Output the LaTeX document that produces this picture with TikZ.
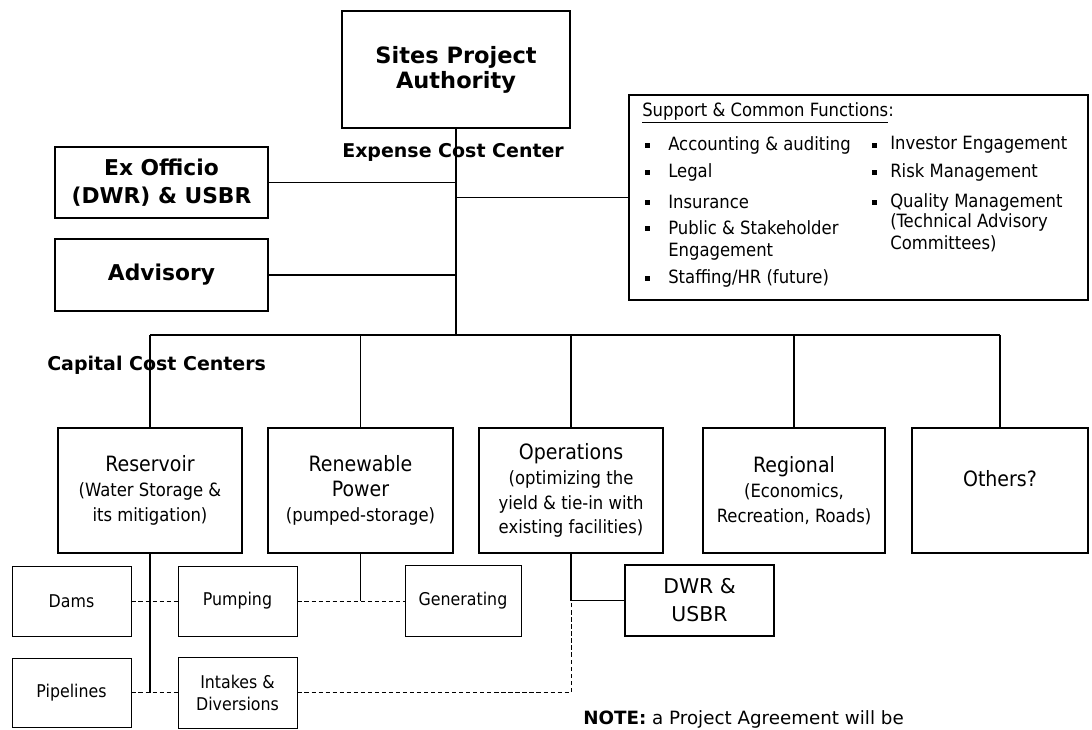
\documentclass[tikz,border=0pt]{standalone}
\usepackage{fontspec}
\setmainfont{DejaVu Sans}
\newfontfamily\condfont{DejaVu Sans Condensed}
\usepackage{tikz}
\usetikzlibrary{positioning,calc}

\begin{document}
\begin{tikzpicture}[
                x=0.025cm, y=-0.025cm,
                mainbox/.style={draw, line width=1.1pt, inner sep=0pt, align=center},
                titlebox/.style={mainbox, font=\bfseries\fontsize{16}{17.7}\selectfont},
                sidebox/.style={mainbox, font=\bfseries\fontsize{15.5}{19.9}\selectfont},
                centerbox/.style={mainbox, minimum height=3.125cm, font=\condfont\fontsize{13}{17.7}\selectfont},
                subbox/.style={draw, line width=0.6pt, inner sep=0pt, align=center, minimum width=2.975cm, minimum height=1.75cm, font=\condfont\fontsize{12.5}{15.6}\selectfont},
                link/.style={line width=1pt},
                dashlink/.style={line width=0.7pt, dash pattern=on 3pt off 2pt},
                boldlabel/.style={anchor=west, inner sep=0pt, font=\bfseries\fontsize{13.5}{16}\selectfont},
                listtext/.style={anchor=west, inner sep=0pt, font=\condfont\fontsize{13}{16}\selectfont}
            ]
                \useasboundingbox (0,0) rectangle (1092,730);
                \clip (0,0) rectangle (1092,730);

                % --- top ---
                \node[titlebox, minimum width=5.7cm, minimum height=2.925cm] (sites) at (456,69.5) {Sites Project\\Authority};
                \node[boldlabel] (expense) at (342,152) {Expense Cost Center};
                \node[sidebox, minimum width=5.325cm, minimum height=1.775cm] (exoff) at (161.5,182.5) {Ex Officio\\(DWR) \& USBR};
                \node[sidebox, minimum width=5.325cm, minimum height=1.8cm] (advis) at (161.5,275) {Advisory};
                \node[mainbox, minimum width=11.475cm, minimum height=5.125cm] (support) at (858.5,197.5) {};

                % --- support list ---
                \node[listtext] (shead) at (642,113) {\underline{Support \& Common Functions}:};
                \node[listtext] (acc) at (668,145) {Accounting \& auditing};
                \node[listtext] (legal) at (668,172) {Legal};
                \node[listtext] (insur) at (668,202) {Insurance};
                \node[listtext] (pub) at (668,228) {Public \& Stakeholder};
                \node[listtext] (pub2) at (668,252) {Engagement};
                \node[listtext] (staff) at (668,278) {Staffing/HR (future)};
                \node[listtext] (inv) at (890,145) {Investor Engagement};
                \node[listtext] (risk) at (890,172) {Risk Management};
                \node[listtext] (qual) at (890,202) {Quality Management};
                \node[listtext] (qual2) at (890,222) {(Technical Advisory};
                \node[listtext] (qual3) at (890,244) {Committees)};
                \foreach \x/\y in {647/145, 647/172, 647/202, 647/228, 647/278, 874/145, 874/172, 874/202}
                    \fill (\x-2.5,\y-2.5) rectangle +(5,5);

                % --- cost centers ---
                \node[boldlabel] (capital) at (47,365) {Capital Cost Centers};
                \node[centerbox, minimum width=4.6cm] (res) at (150,490.5) {{\fontsize{15}{17.7}\selectfont Reservoir}\\(Water Storage \&\\its mitigation)};
                \node[centerbox, minimum width=4.625cm] (ren) at (360.5,490.5) {{\fontsize{15}{17.7}\selectfont Renewable}\\{\fontsize{15}{17.7}\selectfont Power}\\(pumped-storage)};
                \node[centerbox, minimum width=4.6cm] (ops) at (571,490.5) {{\fontsize{15}{17.7}\selectfont Operations}\\(optimizing the\\yield \& tie-in with\\existing facilities)};
                \node[centerbox, minimum width=4.55cm] (reg) at (794,490.5) {{\fontsize{15}{17.7}\selectfont Regional}\\(Economics,\\Recreation, Roads)};
                \node[centerbox, minimum width=4.4cm] (oth) at (1000,490.5) {{\fontsize{15}{17.7}\selectfont Others?}\\\mbox{}};

                % --- sub boxes ---
                \node[subbox] (dams) at (71.5,601) {Dams};
                \node[subbox] (pump) at (237.5,601) {Pumping};
                \node[subbox, minimum width=2.9cm, minimum height=1.775cm] (gen) at (463,601) {Generating};
                \node[subbox, minimum height=1.725cm] (pipe) at (71.5,692.5) {Pipelines};
                \node[subbox, minimum height=1.775cm] (intk) at (237.5,692.5) {Intakes \&\\Diversions};
                \node[mainbox, line width=0.8pt, minimum width=3.725cm, minimum height=1.775cm, font=\fontsize{14.5}{20}\selectfont] (dwr) at (699.5,600.5) {DWR \&\\USBR};

                % --- connectors ---
                \coordinate (hub) at (456,335);
                \draw[link] (sites.south) -- (hub);
                \draw[link] (exoff.east) -- (exoff.east -| hub);
                \draw[link] (advis.east) -- (advis.east -| hub);
                \draw[link] (support.west) -- (support.west -| hub);
                \draw[link] (hub -| res.north) -- (hub -| oth.north);
                \foreach \b in {res,ren,ops,reg,oth}
                    \draw[link] (hub -| \b.north) -- (\b.north);

                \draw[link] (res.south) -- (res.south |- pipe.east);
                \draw[dashlink] (dams.east) -- (pump.west);
                \draw[dashlink] (pipe.east) -- (intk.west);
                \draw[link] (ren.south) -- (ren.south |- gen.west);
                \draw[dashlink] (pump.east) -- (gen.west);
                \coordinate (opsj) at (ops.south |- dwr.west);
                \draw[link] (ops.south) -- (opsj) -- (dwr.west);
                \draw[dashlink] (intk.east) -| (opsj);

                \node[anchor=base west, inner sep=0pt, font=\fontsize{13}{16}\selectfont] (note) at (583,724) {\textbf{NOTE:} a Project Agreement will be};

            \end{tikzpicture}
\end{document}
